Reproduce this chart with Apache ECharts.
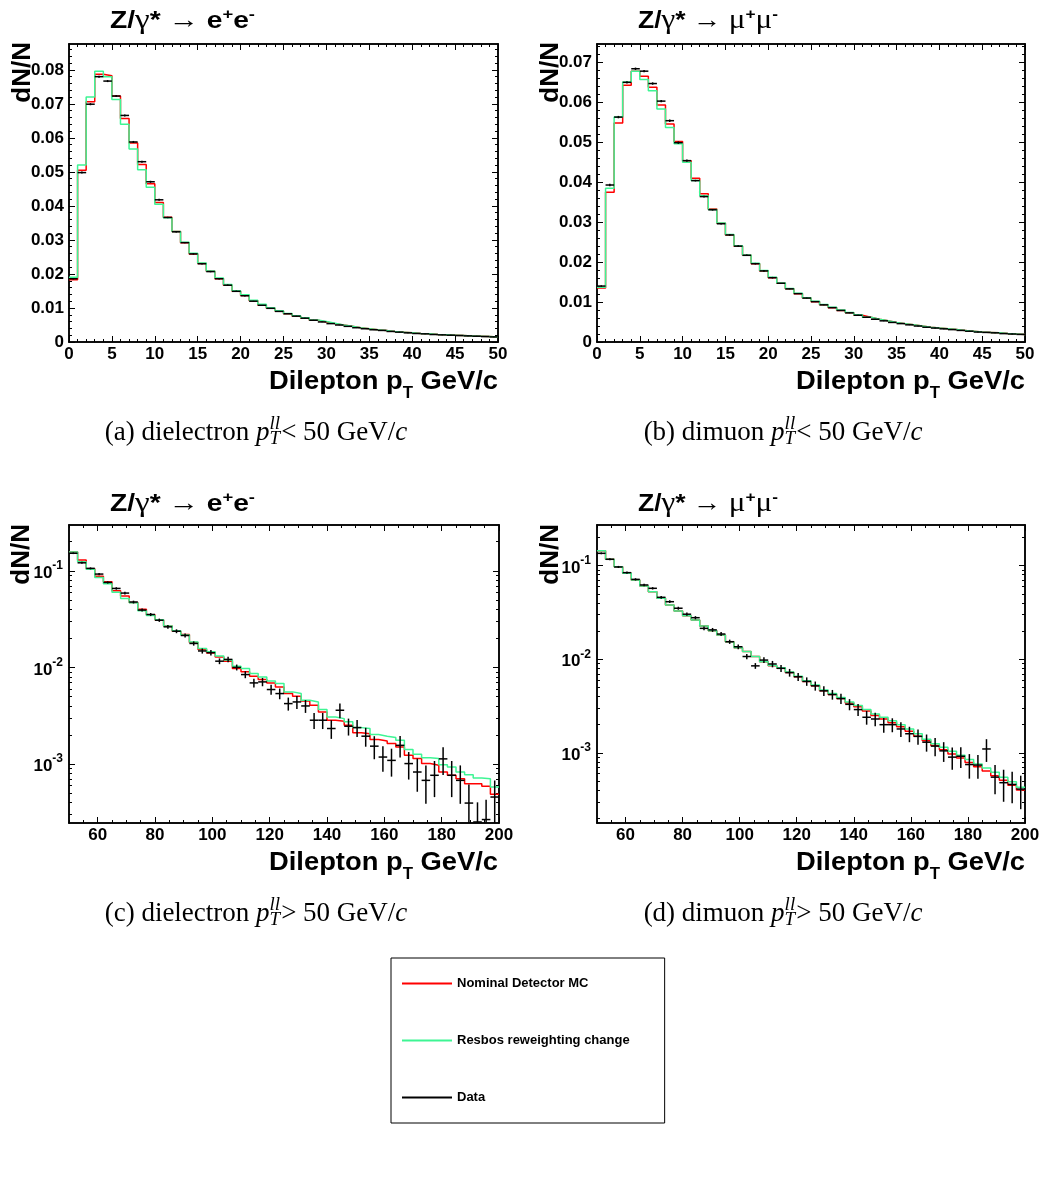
<!DOCTYPE html>
<html>
<head>
<meta charset="utf-8">
<script src="https://cdn.jsdelivr.net/npm/echarts@6/dist/echarts.min.js"></script>
<style>
html, body { margin: 0; padding: 0; background: #fff; }
#chart { width: 1048px; height: 1181px; }
</style>
</head>
<body>
<div id="chart"></div>
<script>
// ---------------- binning ----------------
const lowBinning = { lo: 0, width: 1 };    // 50 bins, 0-50 GeV/c
const highBinning = { lo: 50, width: 3 };  // 50 bins, 50-200 GeV/c

// ---------------- (a) dielectron, pT < 50 ----------------
const eeLowData = [0.0186, 0.0498, 0.0699, 0.0780, 0.0767, 0.0723, 0.0666, 0.0588, 0.0530, 0.0471,
  0.0418, 0.0366, 0.0324, 0.0292, 0.0259, 0.0230, 0.0207, 0.0186, 0.0167, 0.0149,
  0.0136, 0.0120, 0.0108, 0.0099, 0.0090, 0.0083, 0.0076, 0.0070, 0.0064, 0.0059,
  0.0054, 0.0050, 0.0046, 0.0042, 0.0039, 0.0036, 0.0034, 0.0031, 0.0029, 0.0027,
  0.0025, 0.0024, 0.0022, 0.0021, 0.0020, 0.0019, 0.0018, 0.0017, 0.0016, 0.0015];
const eeLowDataErr = [0.0002, 0.0003, 0.0003, 0.0003, 0.0003, 0.0003, 0.0003, 0.0003, 0.0003, 0.0003,
  0.0003, 0.0002, 0.0002, 0.0002, 0.0002, 0.0002, 0.0002, 0.0002, 0.0002, 0.0002,
  0.0002, 0.0001, 0.0001, 0.0001, 0.0001, 0.0001, 0.0001, 0.0001, 0.0001, 0.0001,
  0.0001, 0.0001, 0.0001, 0.0001, 0.0001, 0.0001, 0.0001, 0.0001, 0.0001, 0.0001,
  0.0001, 0.0001, 0.0001, 0.0001, 0.0001, 0.0001, 0.0001, 0.0001, 0.0001, 0.0001];
const eeLowNominal = [0.0183, 0.0505, 0.0706, 0.0787, 0.0783, 0.0723, 0.0657, 0.0585, 0.0522, 0.0465,
  0.0410, 0.0367, 0.0325, 0.0292, 0.0259, 0.0231, 0.0208, 0.0186, 0.0167, 0.0149,
  0.0137, 0.0121, 0.0109, 0.0099, 0.0091, 0.0083, 0.0076, 0.0070, 0.0064, 0.0059,
  0.0054, 0.0050, 0.0046, 0.0042, 0.0039, 0.0036, 0.0034, 0.0031, 0.0029, 0.0027,
  0.0025, 0.0024, 0.0022, 0.0021, 0.0020, 0.0019, 0.0018, 0.0017, 0.0016, 0.0015];
const eeLowResbos = [0.0190, 0.0520, 0.0720, 0.0796, 0.0780, 0.0713, 0.0640, 0.0567, 0.0506, 0.0455,
  0.0405, 0.0365, 0.0325, 0.0293, 0.0261, 0.0232, 0.0209, 0.0188, 0.0169, 0.0151,
  0.0139, 0.0123, 0.0111, 0.0101, 0.0092, 0.0084, 0.0077, 0.0071, 0.0065, 0.0060,
  0.0055, 0.0050, 0.0046, 0.0042, 0.0039, 0.0036, 0.0034, 0.0031, 0.0029, 0.0027,
  0.0025, 0.0024, 0.0022, 0.0021, 0.0020, 0.0019, 0.0018, 0.0017, 0.0016, 0.0015];

// ---------------- (b) dimuon, pT < 50 ----------------
const mmLowData = [0.0140, 0.0393, 0.0563, 0.0650, 0.0684, 0.0678, 0.0647, 0.0603, 0.0554, 0.0499,
  0.0454, 0.0404, 0.0364, 0.0331, 0.0296, 0.0268, 0.0240, 0.0217, 0.0196, 0.0178,
  0.0161, 0.0147, 0.0133, 0.0121, 0.0110, 0.0101, 0.0093, 0.0086, 0.0079, 0.0073,
  0.0067, 0.0062, 0.0057, 0.0053, 0.0049, 0.0046, 0.0043, 0.0040, 0.0037, 0.0035,
  0.0033, 0.0031, 0.0029, 0.0027, 0.0025, 0.0024, 0.0023, 0.0021, 0.0020, 0.0019];
const mmLowDataErr = [0.0002, 0.0003, 0.0003, 0.0003, 0.0003, 0.0003, 0.0003, 0.0003, 0.0003, 0.0003,
  0.0003, 0.0002, 0.0002, 0.0002, 0.0002, 0.0002, 0.0002, 0.0002, 0.0002, 0.0002,
  0.0002, 0.0001, 0.0001, 0.0001, 0.0001, 0.0001, 0.0001, 0.0001, 0.0001, 0.0001,
  0.0001, 0.0001, 0.0001, 0.0001, 0.0001, 0.0001, 0.0001, 0.0001, 0.0001, 0.0001,
  0.0001, 0.0001, 0.0001, 0.0001, 0.0001, 0.0001, 0.0001, 0.0001, 0.0001, 0.0001];
const mmLowNominal = [0.0135, 0.0375, 0.0548, 0.0643, 0.0678, 0.0665, 0.0638, 0.0593, 0.0546, 0.0502,
  0.0454, 0.0410, 0.0371, 0.0333, 0.0297, 0.0268, 0.0240, 0.0217, 0.0196, 0.0178,
  0.0161, 0.0147, 0.0133, 0.0121, 0.0110, 0.0101, 0.0093, 0.0086, 0.0079, 0.0073,
  0.0067, 0.0062, 0.0057, 0.0053, 0.0049, 0.0046, 0.0043, 0.0040, 0.0037, 0.0035,
  0.0033, 0.0031, 0.0029, 0.0027, 0.0025, 0.0024, 0.0023, 0.0021, 0.0020, 0.0019];
const mmLowResbos = [0.0137, 0.0385, 0.0563, 0.0651, 0.0678, 0.0657, 0.0629, 0.0583, 0.0537, 0.0496,
  0.0450, 0.0404, 0.0366, 0.0332, 0.0298, 0.0269, 0.0241, 0.0218, 0.0197, 0.0179,
  0.0162, 0.0148, 0.0134, 0.0122, 0.0111, 0.0102, 0.0094, 0.0087, 0.0080, 0.0074,
  0.0068, 0.0062, 0.0057, 0.0053, 0.0049, 0.0046, 0.0043, 0.0040, 0.0037, 0.0035,
  0.0033, 0.0031, 0.0029, 0.0027, 0.0025, 0.0024, 0.0023, 0.0021, 0.0020, 0.0019];

// ---------------- (c) dielectron, pT > 50 ----------------
const eeHighData = [0.152, 0.121, 0.106, 0.0925, 0.0758, 0.0657, 0.0588, 0.0475, 0.0392, 0.0353,
  0.0308, 0.0263, 0.0237, 0.0214, 0.0177, 0.0148, 0.0142, 0.0116, 0.0121, 0.0100,
  0.00843, 0.00691, 0.00708, 0.00590, 0.00536, 0.00422, 0.00439, 0.00399, 0.00284, 0.00284,
  0.00233, 0.00360, 0.00246, 0.00238, 0.00194, 0.00153, 0.00118, 0.00109, 0.00156, 0.00101,
  0.000826, 0.000677, 0.000764, 0.00113, 0.000764, 0.000677, 0.000394, 0.000251, 0.000266, 0.000455];
const eeHighDataErr = [0.0030, 0.0030, 0.0025, 0.0023, 0.0020, 0.0019, 0.0018, 0.0016, 0.0014, 0.0013,
  0.0012, 0.0011, 0.0011, 0.0010, 0.0009, 0.0009, 0.0009, 0.0008, 0.0008, 0.0007,
  0.00070, 0.00070, 0.00070, 0.00070, 0.00068, 0.00065, 0.00068, 0.00061, 0.00054, 0.00054,
  0.00051, 0.00062, 0.00049, 0.00048, 0.00043, 0.00041, 0.00035, 0.00035, 0.00039, 0.00032,
  0.00031, 0.00029, 0.00031, 0.00036, 0.00031, 0.00029, 0.00022, 0.00015, 0.00016, 0.00022];
const eeHighNominal = [0.157, 0.129, 0.105, 0.088, 0.077, 0.062, 0.0547, 0.0470, 0.0400, 0.0350,
  0.0310, 0.0269, 0.0237, 0.0219, 0.0181, 0.0153, 0.0141, 0.0128, 0.0116, 0.00975,
  0.00899, 0.00810, 0.00748, 0.00691, 0.00628, 0.00536, 0.00503, 0.00450, 0.00406, 0.00346,
  0.00284, 0.00277, 0.00252, 0.00211, 0.00206, 0.00179, 0.00173, 0.00163, 0.00150, 0.00123,
  0.00114, 0.00101, 0.000969, 0.000827, 0.000764, 0.000705, 0.000626, 0.000626, 0.000587, 0.000485];
const eeHighResbos = [0.157, 0.124, 0.104, 0.0853, 0.0735, 0.0601, 0.0518, 0.0468, 0.0385, 0.0345,
  0.0311, 0.0269, 0.0240, 0.0216, 0.0183, 0.0157, 0.0145, 0.0131, 0.0119, 0.0103,
  0.00973, 0.00864, 0.00797, 0.00725, 0.00680, 0.00558, 0.00536, 0.00457, 0.00439, 0.00366,
  0.00307, 0.00295, 0.00273, 0.00238, 0.00233, 0.00202, 0.00194, 0.00188, 0.00176, 0.00141,
  0.00126, 0.00116, 0.00114, 0.000985, 0.000932, 0.000827, 0.000776, 0.000716, 0.000705, 0.000578];

// ---------------- (d) dimuon, pT > 50 ----------------
const mmHighData = [0.1355, 0.117, 0.0969, 0.0842, 0.0714, 0.0622, 0.0573, 0.0459, 0.0412, 0.0351,
  0.0303, 0.0278, 0.0214, 0.0206, 0.0186, 0.0154, 0.0136, 0.0107, 0.0085, 0.0098,
  0.0089, 0.0080, 0.0072, 0.0065, 0.0058, 0.0052, 0.0046, 0.0042, 0.0038, 0.0033,
  0.0029, 0.0024, 0.0023, 0.0020, 0.0020, 0.0018, 0.0016, 0.0015, 0.00130, 0.00118,
  0.00105, 0.00090, 0.00092, 0.00075, 0.00074, 0.00110, 0.00055, 0.00048, 0.00046, 0.00041];
const mmHighDataErr = [0.0030, 0.0028, 0.0025, 0.0022, 0.0020, 0.0018, 0.0017, 0.0015, 0.0014, 0.0013,
  0.0012, 0.0011, 0.0010, 0.0010, 0.0009, 0.0008, 0.0008, 0.0007, 0.0006, 0.0007,
  0.0007, 0.00070, 0.00068, 0.00065, 0.00060, 0.00058, 0.00055, 0.00050, 0.00048, 0.00045,
  0.00043, 0.00040, 0.00038, 0.00036, 0.00034, 0.00032, 0.00030, 0.00028, 0.00027, 0.00026,
  0.00025, 0.00024, 0.00023, 0.00022, 0.00021, 0.00030, 0.00019, 0.00018, 0.00017, 0.00016];
const mmHighNominal = [0.1445, 0.117, 0.0976, 0.0829, 0.0704, 0.0607, 0.0528, 0.0449, 0.0380, 0.0328,
  0.0292, 0.0263, 0.0227, 0.0202, 0.0182, 0.0154, 0.0133, 0.0121, 0.0107, 0.0094,
  0.0085, 0.0080, 0.0072, 0.0065, 0.0058, 0.0052, 0.0046, 0.0042, 0.0038, 0.0034,
  0.0031, 0.0028, 0.0025, 0.0023, 0.0021, 0.0019, 0.0017, 0.0015, 0.00135, 0.00120,
  0.00108, 0.00097, 0.00088, 0.00079, 0.00071, 0.00064, 0.00057, 0.00051, 0.00045, 0.00040];
const mmHighResbos = [0.1445, 0.117, 0.0976, 0.0829, 0.0704, 0.0607, 0.0528, 0.0449, 0.0380, 0.0328,
  0.0292, 0.0263, 0.0227, 0.0202, 0.0182, 0.0154, 0.0133, 0.0121, 0.0107, 0.0094,
  0.0086, 0.0081, 0.0073, 0.0066, 0.0059, 0.0053, 0.0047, 0.0043, 0.0039, 0.0035,
  0.0032, 0.0029, 0.0026, 0.0024, 0.0022, 0.0020, 0.0018, 0.0016, 0.00140, 0.00125,
  0.00115, 0.00104, 0.00094, 0.00085, 0.00076, 0.00069, 0.00062, 0.00055, 0.00049, 0.00043];

// ---------------- axis ranges and tick labels ----------------
const lowXRange = [0, 50];
const highXRange = [50, 200];
const lowXLabels = [0, 5, 10, 15, 20, 25, 30, 35, 40, 45, 50];
const highXLabels = [60, 80, 100, 120, 140, 160, 180, 200];
const linYLabels = [0, 0.01, 0.02, 0.03, 0.04, 0.05, 0.06, 0.07, 0.08];
const logYLabels = [0.001, 0.01, 0.1];
const eeLowYRange = [0, 0.0876];
const mmLowYRange = [0, 0.0746];
const eeHighYRange = [2.45e-4, 0.298];
const mmHighYRange = [1.78e-4, 0.272];

const seriesNames = ['Nominal Detector MC', 'Resbos reweighting change', 'Data'];

// ---------------- styling ----------------
const SANS = 'Liberation Sans';
const SERIF = 'Liberation Serif';
const COL_NOMINAL = '#ff0000';
const COL_RESBOS = '#3ef594';
const COL_DATA = '#000000';

const grids = [
  { left: 69, top: 44, width: 429, height: 298 },
  { left: 597, top: 44, width: 428, height: 298 },
  { left: 69, top: 525, width: 430, height: 298 },
  { left: 597, top: 525, width: 428, height: 298 }
];

function stepValues(a, b, step) {
  const out = [];
  const n = Math.round((b - a) / step);
  for (let i = 0; i <= n; i++) out.push(Math.round((a + i * step) * 1e7) / 1e7);
  return out;
}
function logMinorValues(range) {
  const out = [];
  for (let e = -5; e <= 0; e++) {
    for (let m = 2; m <= 9; m++) {
      const v = m * Math.pow(10, e);
      if (v >= range[0] && v <= range[1]) out.push(v);
    }
  }
  return out;
}

const tickLabelStyle = { color: '#000', fontFamily: SANS, fontWeight: 'bold', fontSize: 17 };

const xAxes = [];
const yAxes = [];
function addAxis(list, gridIndex, position, type, range, ticks, len, labels, labelCfg) {
  const ax = {
    gridIndex: gridIndex, type: type, position: position,
    min: range[0], max: range[1],
    axisLine: { show: true, onZero: false, lineStyle: { color: '#000', width: 1.5 } },
    splitLine: { show: false },
    axisTick: { show: true, inside: true, length: len, customValues: ticks,
      lineStyle: { color: '#000', width: 1 } },
    axisLabel: labels ? Object.assign({ show: true, customValues: labels }, tickLabelStyle, labelCfg)
                      : { show: false },
    silent: true
  };
  if (type === 'log') ax.logBase = 10;
  list.push(ax);
  return list.length - 1;
}

function buildPanel(g, xRange, xMajor, xMinor, xLabels, yType, yRange, yMajor, yMinor, yLabels, yLabelCfg) {
  const xi = addAxis(xAxes, g, 'bottom', 'value', xRange, xMajor, 6, xLabels, { margin: 4 });
  addAxis(xAxes, g, 'bottom', 'value', xRange, xMinor, 3);
  addAxis(xAxes, g, 'top', 'value', xRange, xMajor, 6);
  addAxis(xAxes, g, 'top', 'value', xRange, xMinor, 3);
  const yi = addAxis(yAxes, g, 'left', yType, yRange, yMajor, 6, yLabels, yLabelCfg);
  addAxis(yAxes, g, 'left', yType, yRange, yMinor, 3);
  addAxis(yAxes, g, 'right', yType, yRange, yMajor, 6);
  addAxis(yAxes, g, 'right', yType, yRange, yMinor, 3);
  return { xi: xi, yi: yi };
}

const linLabelCfg = { margin: 5, formatter: function (v) { return v === 0 ? '0' : v.toFixed(2); } };
const logLabelCfg = {
  margin: 6,
  formatter: function (v) { return '{b|10}{s|' + Math.round(Math.log10(v)) + '}'; },
  rich: {
    b: { fontFamily: SANS, fontWeight: 'bold', fontSize: 17, color: '#000', lineHeight: 22, verticalAlign: 'bottom' },
    s: { fontFamily: SANS, fontWeight: 'bold', fontSize: 12, color: '#000', lineHeight: 12, verticalAlign: 'top' }
  }
};

const lowXMajor = stepValues(0, 50, 5), lowXMinor = stepValues(0, 50, 1);
const highXMajor = stepValues(60, 200, 20), highXMinor = stepValues(50, 200, 5);

const axA = buildPanel(0, lowXRange, lowXMajor, lowXMinor, lowXLabels, 'value', eeLowYRange,
  stepValues(0, 0.08, 0.01), stepValues(0, 0.086, 0.002), linYLabels, linLabelCfg);
const axB = buildPanel(1, lowXRange, lowXMajor, lowXMinor, lowXLabels, 'value', mmLowYRange,
  stepValues(0, 0.07, 0.01), stepValues(0, 0.074, 0.002), linYLabels.slice(0, 8), linLabelCfg);
const axC = buildPanel(2, highXRange, highXMajor, highXMinor, highXLabels, 'log', eeHighYRange,
  logYLabels, logMinorValues(eeHighYRange), logYLabels, logLabelCfg);
const axD = buildPanel(3, highXRange, highXMajor, highXMinor, highXLabels, 'log', mmHighYRange,
  logYLabels, logMinorValues(mmHighYRange), logYLabels, logLabelCfg);

// ---------------- series ----------------
function histOutline(binning, vals) {
  const pts = vals.map(function (v, i) { return [binning.lo + i * binning.width, v]; });
  pts.push([binning.lo + vals.length * binning.width, vals[vals.length - 1]]);
  return pts;
}
function dataRows(binning, vals, errs) {
  return vals.map(function (v, i) {
    return [binning.lo + i * binning.width, binning.lo + (i + 1) * binning.width, v, errs[i]];
  });
}
function renderDataPoint(params, api) {
  const x0 = api.value(0), x1 = api.value(1), y = api.value(2), e = api.value(3);
  const cs = params.coordSys;
  const yBottom = cs.y + cs.height;
  const lo = Math.max(y - e, 1e-9);
  const pL = api.coord([x0, y]), pR = api.coord([x1, y]);
  const xm = (x0 + x1) / 2;
  const pT = api.coord([xm, y + e]);
  const pB = api.coord([xm, lo]);
  const clampY = function (v) { return Math.max(cs.y, Math.min(yBottom, v)); };
  const children = [];
  if (pL[1] >= cs.y && pL[1] <= yBottom) {
    children.push({ type: 'line', shape: { x1: pL[0], y1: pL[1], x2: pR[0], y2: pR[1] },
      style: { stroke: COL_DATA, lineWidth: 1.5 } });
  }
  const yt = clampY(pT[1]), yb = clampY(isFinite(pB[1]) ? pB[1] : yBottom);
  if (yb > yt) {
    children.push({ type: 'line', shape: { x1: pT[0], y1: yt, x2: pT[0], y2: yb },
      style: { stroke: COL_DATA, lineWidth: 1.5 } });
  }
  return { type: 'group', children: children };
}

function panelSeries(ax, binning, nominal, resbos, data, errs) {
  const common = { type: 'line', xAxisIndex: ax.xi, yAxisIndex: ax.yi, step: 'end',
    symbol: 'none', showSymbol: false, clip: true, animation: false, silent: true };
  return [
    Object.assign({}, common, { name: seriesNames[0], data: histOutline(binning, nominal), z: 2,
      lineStyle: { color: COL_NOMINAL, width: 1.5 }, itemStyle: { color: COL_NOMINAL } }),
    Object.assign({}, common, { name: seriesNames[1], data: histOutline(binning, resbos), z: 3,
      lineStyle: { color: COL_RESBOS, width: 1.5 }, itemStyle: { color: COL_RESBOS } }),
    { type: 'custom', name: seriesNames[2], xAxisIndex: ax.xi, yAxisIndex: ax.yi, z: 4,
      data: dataRows(binning, data, errs), renderItem: renderDataPoint, clip: true,
      encode: { x: [0, 1], y: 2 }, itemStyle: { color: COL_DATA }, animation: false, silent: true }
  ];
}

const series = [].concat(
  panelSeries(axA, lowBinning, eeLowNominal, eeLowResbos, eeLowData, eeLowDataErr),
  panelSeries(axB, lowBinning, mmLowNominal, mmLowResbos, mmLowData, mmLowDataErr),
  panelSeries(axC, highBinning, eeHighNominal, eeHighResbos, eeHighData, eeHighDataErr),
  panelSeries(axD, highBinning, mmHighNominal, mmHighResbos, mmHighData, mmHighDataErr)
);

// ---------------- texts ----------------
const measureCtx = document.createElement('canvas').getContext('2d');
function fontOf(p) {
  return (p.italic ? 'italic ' : '') + (p.bold ? 'bold ' : '') + p.size + 'px "' + p.fam + '"';
}
function textWidth(str, font) { measureCtx.font = font; return measureCtx.measureText(str).width; }

// A run of text pieces sharing one baseline; each piece may be raised (rise > 0) or lowered.
// anchor 'left' starts the run at x, 'right' ends it at x; width (optional) stretches it horizontally.
function textRun(x, baseline, pieces, anchor, width) {
  let cx = 0;
  const children = pieces.map(function (p) {
    const font = fontOf(p);
    const el = { type: 'text', x: cx, y: -(p.rise || 0) - 0.345 * p.size, silent: true,
      style: { text: p.t, font: font, fill: '#000', textAlign: 'left',
        textVerticalAlign: 'middle', verticalAlign: 'middle' } };
    cx += textWidth(p.t, font) + (p.kern || 0);
    return el;
  });
  const sx = width ? width / cx : 1;
  const left = anchor === 'right' ? x - cx * sx : x;
  return { type: 'group', x: left, y: baseline, scaleX: sx, children: children };
}

function processTitle(lepton, leptonSerif) {
  const lep = leptonSerif ? { fam: SERIF, size: 27 } : { fam: SANS, size: 23, bold: true };
  const sup = { fam: SANS, size: 15, bold: true, rise: 10 };
  return [
    { t: 'Z/', fam: SANS, size: 23, bold: true },
    { t: 'γ', fam: SERIF, size: 27 },
    { t: '*', fam: SANS, size: 23, bold: true },
    { t: ' → ', fam: SERIF, size: 25 },
    Object.assign({ t: lepton }, lep), Object.assign({ t: '+' }, sup),
    Object.assign({ t: lepton }, lep), Object.assign({ t: '-' }, sup)
  ];
}
const eeTitlePieces = processTitle('e', false);
const mmTitlePieces = processTitle('μ', true);
const xTitlePieces = [
  { t: 'Dilepton p', fam: SANS, size: 26, bold: true },
  { t: 'T', fam: SANS, size: 16, bold: true, rise: -8 },
  { t: ' GeV/c', fam: SANS, size: 26, bold: true }
];

// sub-figure captions: "(x) dielectron p_T^ll< 50 GeV/c"
const CAP_SIZE = 27;
const capRoman = CAP_SIZE + 'px "' + SERIF + '"';
const capItalic = 'italic ' + CAP_SIZE + 'px "' + SERIF + '"';
const capScript = 'italic ' + Math.round(CAP_SIZE * 0.7) + 'px "' + SERIF + '"';

function captionElements(cx, cy, lead, tail) {
  const wLead = textWidth(lead, capRoman);
  const wP = textWidth('p', capItalic);
  const wScr = Math.max(textWidth('ll', capScript), textWidth('T', capScript)) + 1;
  const wTail = textWidth(tail, capRoman);
  const wC = textWidth('c', capItalic);
  let x = cx - (wLead + wP + wScr + wTail + wC) / 2;
  const els = [];
  function put(str, font, dy) {
    els.push({ type: 'text', x: x, y: cy + dy, silent: true,
      style: { text: str, font: font, fill: '#000', textAlign: 'left', textVerticalAlign: 'middle', verticalAlign: 'middle' } });
  }
  put(lead, capRoman, 0); x += wLead;
  put('p', capItalic, 0); x += wP;
  put('ll', capScript, -9);
  put('T', capScript, 6); x += wScr;
  put(tail, capRoman, 0); x += wTail;
  put('c', capItalic, 0);
  return els;
}

function yTitle(x, yTop) {
  return { type: 'text', x: x, y: yTop, rotation: Math.PI / 2, silent: true,
    style: { text: 'dN/N', font: 'bold 26px "' + SANS + '"', fill: '#000',
      textAlign: 'right', textVerticalAlign: 'middle', verticalAlign: 'middle' } };
}

const graphics = [
  yTitle(23, 42), yTitle(551, 42), yTitle(22, 524), yTitle(551, 524),
  textRun(110, 30, eeTitlePieces, 'left', 145),
  textRun(638, 30, mmTitlePieces, 'left', 140),
  textRun(110, 513, eeTitlePieces, 'left', 145),
  textRun(638, 513, mmTitlePieces, 'left', 140),
  textRun(498, 391, xTitlePieces, 'right', 229),
  textRun(1025, 391, xTitlePieces, 'right', 229),
  textRun(498, 872, xTitlePieces, 'right', 229),
  textRun(1025, 872, xTitlePieces, 'right', 229)
].concat(
  captionElements(256, 433, '(a) dielectron ', '< 50 GeV/'),
  captionElements(783, 433, '(b) dimuon ', '< 50 GeV/'),
  captionElements(256, 914, '(c) dielectron ', '> 50 GeV/'),
  captionElements(783, 914, '(d) dimuon ', '> 50 GeV/')
);

// ---------------- chart ----------------
const chart = echarts.init(document.getElementById('chart'), null, { renderer: 'canvas' });
chart.setOption({
  backgroundColor: '#ffffff',
  animation: false,
  grid: grids,
  xAxis: xAxes,
  yAxis: yAxes,
  legend: {
    orient: 'vertical', left: 391, top: 958,
    padding: [19, 35, 19, 11], itemGap: 44,
    itemWidth: 50, itemHeight: 2, icon: 'rect',
    borderColor: '#000', borderWidth: 1, selectedMode: false,
    textStyle: { fontFamily: SANS, fontWeight: 'bold', fontSize: 13, color: '#000' },
    data: seriesNames
  },
  graphic: graphics,
  series: series
});
</script>
</body>
</html>
